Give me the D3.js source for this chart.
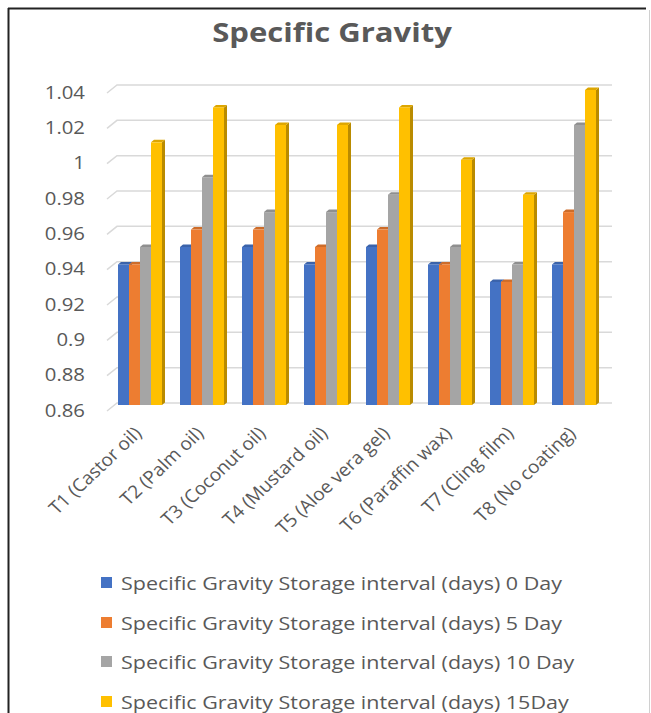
<!DOCTYPE html>
<html>
<head>
<meta charset="utf-8">
<script src="https://cdn.jsdelivr.net/npm/d3@7"></script>
<style>
  html, body { margin: 0; padding: 0; background: #fff; }
  svg { display: block; }
  text { font-family: "Open Sans", "Noto Sans", sans-serif; fill: #595959; }
</style>
</head>
<body>
<svg id="chart" width="651" height="713"></svg>
<script>
const categories = ["T1 (Castor oil)", "T2 (Palm oil)", "T3 (Coconut oil)", "T4 (Mustard oil)",
                    "T5 (Aloe vera gel)", "T6 (Paraffin wax)", "T7 (Cling film)", "T8 (No coating)"];
const seriesNames = ["Specific Gravity Storage interval (days) 0 Day",
                     "Specific Gravity Storage interval (days) 5 Day",
                     "Specific Gravity Storage interval (days) 10 Day",
                     "Specific Gravity Storage interval (days) 15Day"];
const day0  = [0.94, 0.95, 0.95, 0.94, 0.95, 0.94, 0.93, 0.94];
const day5  = [0.94, 0.96, 0.96, 0.95, 0.96, 0.94, 0.93, 0.97];
const day10 = [0.95, 0.99, 0.97, 0.97, 0.98, 0.95, 0.94, 1.02];
const day15 = [1.01, 1.03, 1.02, 1.02, 1.03, 1.00, 0.98, 1.04];
const yTicks = [0.86, 0.88, 0.90, 0.92, 0.94, 0.96, 0.98, 1.00, 1.02, 1.04];
const colors = ["#4472C4", "#ED7D31", "#A5A5A5", "#FFC000"];
const title = "Specific Gravity";

const seriesValues = [day0, day5, day10, day15];
const SX = 1.13; // horizontal stretch of the reference's text

const svg = d3.select("#chart");

// frame
svg.append("line").attr("x1", 8.5).attr("y1", 8).attr("x2", 8.5).attr("y2", 713)
  .attr("stroke", "#222").attr("stroke-width", 2);
svg.append("line").attr("x1", 8).attr("y1", 8.5).attr("x2", 646).attr("y2", 8.5)
  .attr("stroke", "#222").attr("stroke-width", 2);
svg.append("line").attr("x1", 649.5).attr("y1", 10).attr("x2", 649.5).attr("y2", 713)
  .attr("stroke", "#d0d0d0").attr("stroke-width", 1);

// title
svg.append("text")
  .attr("transform", `translate(332,42) scale(${SX},1)`)
  .attr("text-anchor", "middle")
  .style("font-size", "27.5px").style("font-weight", "bold")
  .text(title);

// scales
const yGrid = d3.scaleLinear().domain([0.86, 1.04]).range([403, 85]);
const yBar = d3.scaleLinear().domain([0.86, 1.04]).range([404, 90]);
const x = d3.scaleBand().domain(categories).range([109, 605]).padding(0);
const xs = d3.scaleBand().domain(d3.range(4)).range([9, 53]).padding(0);

const depthX = 10, depthY = 8;
const gridRight = 612;

// gridlines (back wall + slanted side)
const grid = svg.append("g");
yTicks.forEach(t => {
  const gy = yGrid(t);
  grid.append("path")
    .attr("d", `M${117 - depthX},${gy + depthY} L117,${gy} L${gridRight},${gy}`)
    .attr("fill", "none").attr("stroke", "#d9d9d9").attr("stroke-width", 1.5);
});

// y tick labels
const yAxis = d3.axisLeft(yGrid).tickValues(yTicks).tickSize(0)
  .tickFormat(d => String(+d.toFixed(2)));
const yg = svg.append("g").attr("transform", "translate(85,7)").call(yAxis);
yg.select(".domain").remove();
yg.selectAll(".tick text")
  .attr("x", 0).attr("dy", "0.35em")
  .attr("text-anchor", "end")
  .attr("transform", `scale(${SX},1)`)
  .style("font-size", "18px").style("fill", "#595959");

// bars (3D look)
const dx = 3, dy = 2.5;
const barsG = svg.append("g");
categories.forEach((c, i) => {
  seriesValues.forEach((vals, s) => {
    const v = vals[i];
    const x0 = x(c) + xs(s);
    const w = xs.bandwidth();
    const yt = yBar(v);
    const yb = 405;
    const base = d3.color(colors[s]);
    const g = barsG.append("g");
    g.append("path")
      .attr("d", `M${x0 + w},${yt} L${x0 + w + dx},${yt - dy} L${x0 + w + dx},${yb - dy} L${x0 + w},${yb} Z`)
      .attr("fill", base.darker(0.9).formatHex());
    g.append("path")
      .attr("d", `M${x0},${yt} L${x0 + dx},${yt - dy} L${x0 + w + dx},${yt - dy} L${x0 + w},${yt} Z`)
      .attr("fill", base.darker(0.4).formatHex());
    g.append("rect")
      .attr("x", x0).attr("y", yt).attr("width", w).attr("height", yb - yt)
      .attr("fill", colors[s]);
  });
});

// x labels
const xAxis = d3.axisBottom(x).tickSize(0);
const xg = svg.append("g").call(xAxis);
xg.select(".domain").remove();
xg.selectAll(".tick").attr("transform", d => `translate(${x(d) + x.bandwidth() / 2 - 2},430)`);
xg.selectAll(".tick text")
  .attr("x", 0).attr("y", 0).attr("dy", "0.35em")
  .attr("text-anchor", "end")
  .attr("transform", `scale(1.06,1) rotate(-45)`)
  .style("font-size", "18px").style("fill", "#595959");

// legend
const legendY = [583, 623, 662, 702];
const lg = svg.append("g");
seriesNames.forEach((name, s) => {
  lg.append("rect").attr("x", 101).attr("y", legendY[s] - 6).attr("width", 11).attr("height", 11)
    .attr("fill", colors[s]);
  lg.append("text")
    .attr("transform", `translate(121,${legendY[s]}) scale(${SX},1)`)
    .attr("dy", "0.35em")
    .style("font-size", "19px")
    .text(name);
});
</script>
</body>
</html>
